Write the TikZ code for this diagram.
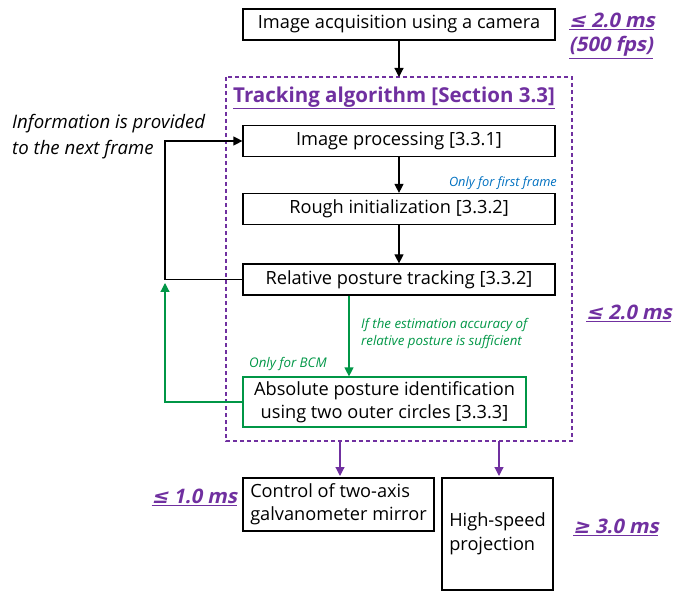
\documentclass[tikz,border=0pt]{standalone}
\usepackage{fontspec}
\setmainfont{Open Sans}
\newfontfamily\timingfont{Open Sans}[BoldFeatures={FakeSlant=0.22}]
\newfontfamily\symfont{DejaVu Sans}[BoldFeatures={FakeSlant=0.22}]
\usetikzlibrary{arrows.meta}
\definecolor{tpurple}{RGB}{112,48,160}
\definecolor{tgreen}{RGB}{0,150,70}
\definecolor{tblue}{RGB}{0,112,192}
\tikzset{
  stepbox/.style={draw=black, line width=1.2pt, minimum height=31pt, inner sep=2pt, font=\fontsize{18.2}{21}\selectfont},
  flow/.style={-{Triangle[length=9pt,width=9pt]}, line width=1.2pt},
  timing/.style={text=tpurple, font=\fontsize{20}{24}\timingfont\bfseries, inner sep=0pt},
  note/.style={font=\fontsize{13.3}{17}\selectfont\itshape, inner sep=0pt, align=left},
}
\newcommand{\ul}[1]{\underline{#1}}
\newcommand{\lesym}{{\symfont\bfseries ≤}}
\newcommand{\gesym}{{\symfont\bfseries ≥}}
\begin{document}
\begin{tikzpicture}[x=1pt,y=-1pt]
\useasboundingbox (0,0) rectangle (674,593);
% processing chain
\node[stepbox, minimum width=312pt] (acq) at (399,24.5) {Image acquisition using a camera};
\draw[tpurple, line width=1.2pt, dash pattern=on 4pt off 3pt] (226,77) rectangle (572,441);
\coordinate (trk) at (399,77);
\node[text=tpurple, font=\fontsize{20.5}{24}\selectfont\bfseries, inner sep=0pt, anchor=west] (ttl) at (233,98) {\ul{Tracking algorithm [Section 3.3]}};
\node[stepbox, minimum width=312pt] (img) at (399,141) {Image processing [3.3.1]};
\node[stepbox, minimum width=312pt] (rough) at (399,209) {Rough initialization [3.3.2]};
\node[stepbox, minimum width=312pt] (rel) at (399,279.5) {Relative posture tracking [3.3.2]};
\node[stepbox, draw=tgreen, minimum width=283pt, minimum height=50pt, align=center, font=\fontsize{18.2}{23}\selectfont] (abs) at (384.5,402) {Absolute posture identification\\using two outer circles [3.3.3]};
\node[stepbox, minimum width=191pt, minimum height=53pt, align=left, font=\fontsize{18.2}{23}\selectfont] (galvo) at (338.5,504.5) {Control of two-axis\\galvanometer mirror};
\node[stepbox, minimum width=111pt, minimum height=112pt, align=left, font=\fontsize{18.2}{24}\selectfont] (proj) at (497.5,534) {High-speed\\projection};
% connectors
\draw[flow] (acq) -- (trk);
\draw[flow] (img) -- (rough);
\draw[flow] (rough) -- (rel);
\draw[flow, tgreen] (rel.south -| 349,0) -- (abs.north -| 349,0);
\draw[flow] (rel.west) -- (165,279.5) -- (165,141) -- (img.west);
\draw[flow, tgreen] (abs.west) -- (165,402) -- (165,283);
\coordinate (out1) at (340,441);
\coordinate (out2) at (499,441);
\draw[flow, tpurple] (out1) -- (340,476);
\draw[flow, tpurple] (out2) -- (499,476);
% annotations
\node[note, text=tblue, font=\fontsize{12.8}{14}\selectfont\itshape, anchor=east] (first) at (557,183) {Only for first frame};
\node[note, text=tgreen, anchor=west] (cond) at (361,334) {If the estimation accuracy of\\relative posture is sufficient};
\node[note, text=tgreen, anchor=west] (bcm) at (249,364) {Only for BCM};
\node[note, font=\fontsize{18.6}{26}\selectfont\itshape, anchor=west] (info) at (12,137) {Information is provided\\to the next frame};
\node[timing, anchor=west, align=left] (t1) at (569,36) {\ul{\lesym\ 2.0 ms}\\\ul{(500 fps)}};
\node[timing, anchor=west] (t2) at (586,313) {\ul{\lesym\ 2.0 ms}};
\node[timing, anchor=east] (t3) at (237,497) {\ul{\lesym\ 1.0 ms}};
\node[timing, anchor=west] (t4) at (573,527) {\ul{\gesym\ 3.0 ms}};
\end{tikzpicture}
\end{document}
